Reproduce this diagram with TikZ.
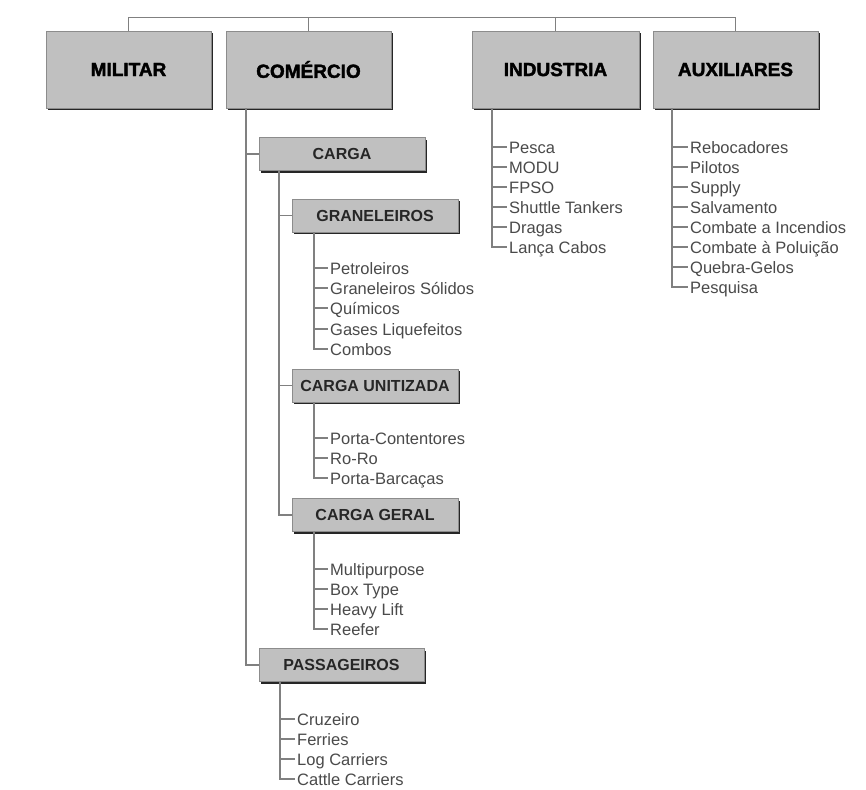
\documentclass[tikz,border=0pt]{standalone}
\usepackage{fontspec}
\setmainfont{Liberation Sans}
\newfontfamily\heavy{Liberation Sans Bold}[FakeBold=2]
\usetikzlibrary{shadows}
\definecolor{boxfill}{HTML}{C0C0C0}
\definecolor{linec}{HTML}{808080}
\definecolor{itemc}{HTML}{4A4A4A}
\begin{document}
\begin{tikzpicture}[x=1pt,y=-1pt,
  box/.style={draw=black!45, line width=0.6pt, fill=boxfill,
    drop shadow={shadow xshift=2pt, shadow yshift=-2pt, fill=black!85, opacity=1},
    inner sep=0pt, align=center},
  topbox/.style={box, minimum width=165pt, minimum height=77pt, font=\heavy\fontsize{19}{21}\selectfont},
  subbox/.style={box, minimum width=166pt, minimum height=33pt, font=\bfseries\fontsize{16}{18}\selectfont, text=black!85},
  item/.style={anchor=west, inner xsep=2pt, inner ysep=0pt, text height=12pt, text depth=0pt,
    font=\fontsize{16.5}{18}\selectfont, text=itemc},
  conn/.style={draw=linec, line width=1.6pt}]
\fill[white] (0,0) rectangle (866,789);
\useasboundingbox (0,0) rectangle (866,789);

% top level
\node[topbox] (mil) at (128.5,69.5) {MILITAR};
\node[topbox] (com) at (308.5,69.5) {COMÉRCIO};
\node[topbox, minimum width=167pt] (ind) at (555.5,69.5) {INDUSTRIA};
\node[topbox] (aux) at (735.5,69.5) {AUXILIARES};
\coordinate (bus) at (0,17.5);
\draw[conn] (mil.north) |- (bus -| aux.north) -- (aux.north);
\draw[conn] (com.north) -- (com.north |- bus);
\draw[conn] (ind.north) -- (ind.north |- bus);

% comercio subtree
\node[subbox] (carga) at (342,154) {CARGA};
\node[subbox] (gran) at (375,215.5) {GRANELEIROS};
\node[subbox] (unit) at (375,385.5) {CARGA UNITIZADA};
\node[subbox] (geral) at (375,515) {CARGA GERAL};
\node[subbox, minimum width=165pt] (pas) at (341.5,665) {PASSAGEIROS};

\coordinate (comx) at ([xshift=20pt]com.south west);
\draw[conn] (comx) |- (carga.west);
\draw[conn] (comx) |- (pas.west);
\coordinate (cargax) at ([xshift=20pt]carga.south west);
\draw[conn] (cargax) |- (gran.west);
\draw[conn] (cargax) |- (unit.west);
\draw[conn] (cargax) |- (geral.west);

% industria items
\node[item] (i1) at (507,147) {Pesca};
\node[item] (i2) at (507,167) {MODU};
\node[item] (i3) at (507,187) {FPSO};
\node[item] (i4) at (507,207) {Shuttle Tankers};
\node[item] (i5) at (507,227) {Dragas};
\node[item] (i6) at (507,247) {Lança Cabos};
\coordinate (indx) at ([xshift=20pt]ind.south west);
\foreach \n in {i1,i2,i3,i4,i5,i6} \draw[conn] (indx) |- (\n.west);

% auxiliares items
\node[item] (a1) at (688,147) {Rebocadores};
\node[item] (a2) at (688,167) {Pilotos};
\node[item] (a3) at (688,187) {Supply};
\node[item] (a4) at (688,207) {Salvamento};
\node[item] (a5) at (688,227) {Combate a Incendios};
\node[item] (a6) at (688,247) {Combate à Poluição};
\node[item] (a7) at (688,267) {Quebra-Gelos};
\node[item] (a8) at (688,287) {Pesquisa};
\coordinate (auxx) at ([xshift=19pt]aux.south west);
\foreach \n in {a1,a2,a3,a4,a5,a6,a7,a8} \draw[conn] (auxx) |- (\n.west);

% graneleiros items
\node[item] (g1) at (328,268) {Petroleiros};
\node[item] (g2) at (328,288) {Graneleiros Sólidos};
\node[item] (g3) at (328,308) {Químicos};
\node[item] (g4) at (328,329) {Gases Liquefeitos};
\node[item] (g5) at (328,349) {Combos};
\coordinate (granx) at ([xshift=22pt]gran.south west);
\foreach \n in {g1,g2,g3,g4,g5} \draw[conn] (granx) |- (\n.west);

% unitizada items
\node[item] (u1) at (328,438) {Porta-Contentores};
\node[item] (u2) at (328,458) {Ro-Ro};
\node[item] (u3) at (328,478) {Porta-Barcaças};
\coordinate (unitx) at ([xshift=22pt]unit.south west);
\foreach \n in {u1,u2,u3} \draw[conn] (unitx) |- (\n.west);

% geral items
\node[item] (e1) at (328,569) {Multipurpose};
\node[item] (e2) at (328,589) {Box Type};
\node[item] (e3) at (328,609) {Heavy Lift};
\node[item] (e4) at (328,629) {Reefer};
\coordinate (geralx) at ([xshift=22pt]geral.south west);
\foreach \n in {e1,e2,e3,e4} \draw[conn] (geralx) |- (\n.west);

% passageiros items
\node[item] (p1) at (295,719) {Cruzeiro};
\node[item] (p2) at (295,739) {Ferries};
\node[item] (p3) at (295,759) {Log Carriers};
\node[item] (p4) at (295,779) {Cattle Carriers};
\coordinate (pasx) at ([xshift=21pt]pas.south west);
\foreach \n in {p1,p2,p3,p4} \draw[conn] (pasx) |- (\n.west);
\end{tikzpicture}
\end{document}
